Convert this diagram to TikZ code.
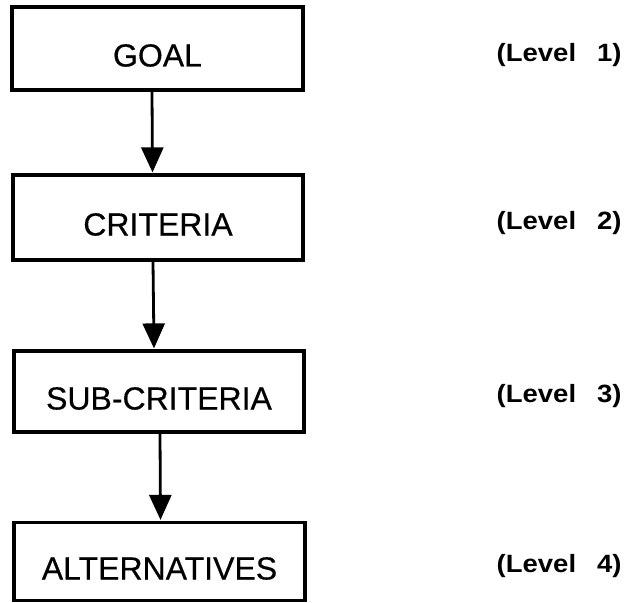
\documentclass[tikz,border=0pt]{standalone}
\usepackage{fontspec}
\setmainfont{Liberation Sans}[FakeBold=0.4]
\newfontfamily\lvfont{Liberation Sans}[FakeStretch=1.1]
\usetikzlibrary{arrows.meta}

\tikzset{
  levelbox/.style={draw, line width=3.2bp, rectangle, inner sep=0pt,
    font=\fontsize{32bp}{36bp}\selectfont,
    text height=36bp, text depth=0bp},
  levelarrow/.style={line width=2.8bp,
    -{Triangle[width=22bp,length=25bp]}, shorten >=1bp},
  levellabel/.style={anchor=west, inner sep=0pt,
    font=\lvfont\bfseries\fontsize{25bp}{28bp}\selectfont}
}

\newcommand{\lvtext}[1]{(Level\hspace{21bp}#1)}

\begin{document}
\begin{tikzpicture}[x=1bp,y=-1bp]
  \useasboundingbox (0,0) rectangle (630,603);

  % hierarchy boxes
  \node[levelbox, minimum width=291bp, minimum height=83bp] (goal) at (157.5,48.5) {GOAL};
  \node[levelbox, minimum width=290bp, minimum height=85bp] (crit) at (158,217.5) {CRITERIA};
  \node[levelbox, minimum width=290bp, minimum height=81bp] (sub) at (159,391.5) {SUB-CRITERIA};
  \node[levelbox, minimum width=291bp, minimum height=78bp] (alt) at (159.5,561.5) {ALTERNATIVES};

  % downward arrows between levels
  \draw[levelarrow] ([xshift=-5.5bp]goal.south) -- ([xshift=-5.5bp]crit.north);
  \draw[levelarrow] ([xshift=-5bp]crit.south) -- ([xshift=-5bp]sub.north);
  \draw[levelarrow] ([xshift=1bp]sub.south) -- ([xshift=1bp]alt.north);

  % level labels
  \node[levellabel] (l1) at (496.5,55) {\lvtext{1}};
  \node[levellabel] (l2) at (496.5,223) {\lvtext{2}};
  \node[levellabel] (l3) at (496.5,396) {\lvtext{3}};
  \node[levellabel] (l4) at (496.5,566) {\lvtext{4}};
\end{tikzpicture}
\end{document}
